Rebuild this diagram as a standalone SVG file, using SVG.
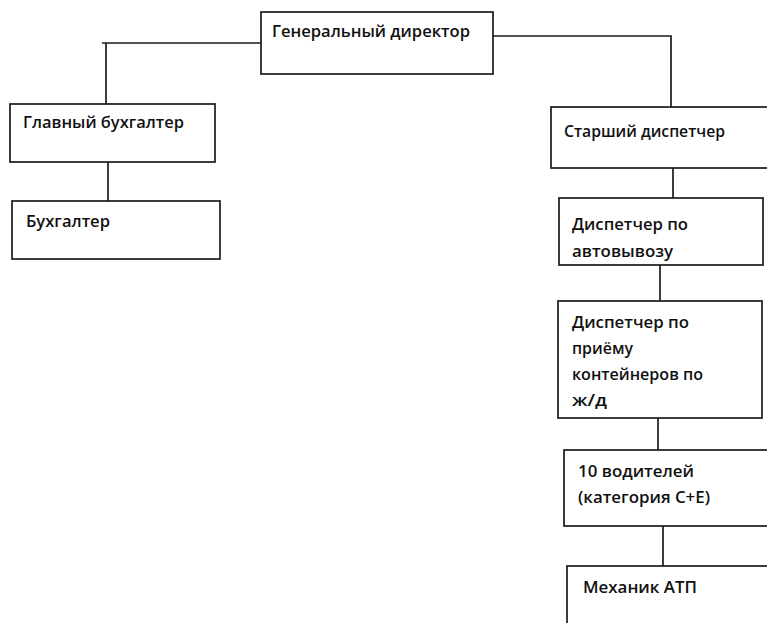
<svg xmlns="http://www.w3.org/2000/svg" width="767" height="623" viewBox="0 0 767 623">
<style>
.box{fill:#fff;stroke:#1a1a1a;stroke-width:1.7}
.ln{fill:none;stroke:#1a1a1a;stroke-width:1.7}
text{font-family:"Open Sans","Liberation Sans",sans-serif;font-size:16px;font-weight:600;fill:#111}
</style>
<rect width="767" height="623" fill="#fff"/>
<g id="connectors">
<polyline class="ln" points="261,43 102,43"/>
<line class="ln" x1="106" y1="43" x2="106" y2="104"/>
<polyline class="ln" points="493,36 671,36 671,107"/>
<line class="ln" x1="108" y1="162" x2="108" y2="201"/>
<line class="ln" x1="673" y1="168" x2="673" y2="198"/>
<line class="ln" x1="660" y1="265" x2="660" y2="301"/>
<line class="ln" x1="658" y1="418" x2="658" y2="450"/>
<line class="ln" x1="663" y1="526" x2="663" y2="566"/>
</g>
<g id="gen-director">
<rect class="box" x="261" y="12" width="232" height="62"/>
<text x="272" y="37" textLength="198" lengthAdjust="spacingAndGlyphs">Генеральный директор</text>
</g>
<g id="chief-accountant">
<rect class="box" x="10" y="104" width="205" height="58"/>
<text x="23" y="128" textLength="161" lengthAdjust="spacingAndGlyphs">Главный бухгалтер</text>
</g>
<g id="accountant">
<rect class="box" x="12" y="201" width="208" height="58"/>
<text x="26" y="227" textLength="84" lengthAdjust="spacingAndGlyphs">Бухгалтер</text>
</g>
<g id="senior-dispatcher">
<rect class="box" x="551" y="107" width="230" height="61"/>
<text x="564" y="137" textLength="161" lengthAdjust="spacingAndGlyphs">Старший диспетчер</text>
</g>
<g id="dispatcher-auto">
<rect class="box" x="559" y="198" width="204" height="67"/>
<text x="572" y="230" textLength="116" lengthAdjust="spacingAndGlyphs">Диспетчер по</text>
<text x="572" y="257" textLength="101" lengthAdjust="spacingAndGlyphs">автовывозу</text>
</g>
<g id="dispatcher-rail">
<rect class="box" x="558" y="301" width="204" height="117"/>
<text x="572" y="328" textLength="117" lengthAdjust="spacingAndGlyphs">Диспетчер по</text>
<text x="572" y="354" textLength="61" lengthAdjust="spacingAndGlyphs">приёму</text>
<text x="572" y="380" textLength="131" lengthAdjust="spacingAndGlyphs">контейнеров по</text>
<text x="572" y="406" textLength="35" lengthAdjust="spacingAndGlyphs">ж/д</text>
</g>
<g id="drivers">
<rect class="box" x="564" y="450" width="220" height="76"/>
<text x="578" y="477" textLength="116" lengthAdjust="spacingAndGlyphs">10 водителей</text>
<text x="578" y="503" textLength="132" lengthAdjust="spacingAndGlyphs">(категория С+Е)</text>
</g>
<g id="mechanic">
<rect class="box" x="567" y="566" width="220" height="80"/>
<text x="583" y="593" textLength="114" lengthAdjust="spacingAndGlyphs">Механик АТП</text>
</g>
</svg>
